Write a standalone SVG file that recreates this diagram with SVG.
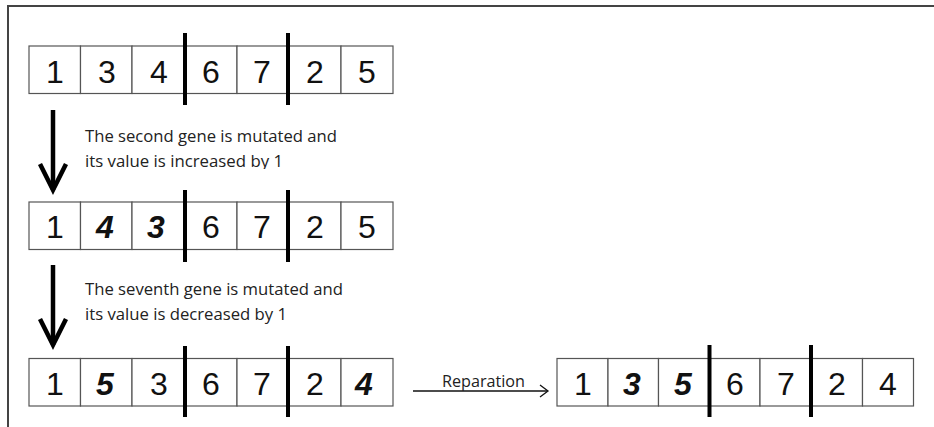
<svg xmlns="http://www.w3.org/2000/svg" width="934" height="427" viewBox="0 0 934 427">
<style>
.cell{fill:#fff;stroke:#555;stroke-width:1.2}
.cut{stroke:#000;stroke-width:4}
.num{font-family:"Liberation Sans",Arial,sans-serif;font-size:32px;fill:#111;text-anchor:middle}
.bi{font-weight:bold;font-style:italic}
.lbl{font-family:"Open Sans","Liberation Sans",Arial,sans-serif;font-size:16px;fill:#222}
.frame{stroke:#444;stroke-width:2;fill:none}
.big{stroke:#000;stroke-width:4.5;fill:none}
</style>
<defs>
<clipPath id="clip1"><rect x="80" y="120" width="300" height="49"/></clipPath>
</defs>
<path class="frame" d="M8,427 V6 H934"/>
<g id="row1">
<rect class="cell" x="29" y="46" width="51.5" height="47.5"/>
<rect class="cell" x="80.5" y="46" width="51.5" height="47.5"/>
<rect class="cell" x="132" y="46" width="53" height="47.5"/>
<rect class="cell" x="185" y="46" width="52" height="47.5"/>
<rect class="cell" x="237" y="46" width="51" height="47.5"/>
<rect class="cell" x="288" y="46" width="53" height="47.5"/>
<rect class="cell" x="341" y="46" width="52" height="47.5"/>
<line class="cut" x1="185" y1="33" x2="185" y2="105"/>
<line class="cut" x1="288" y1="33" x2="288" y2="105"/>
<text class="num" x="55" y="83">1</text>
<text class="num" x="107" y="83">3</text>
<text class="num" x="159" y="83">4</text>
<text class="num" x="211" y="83">6</text>
<text class="num" x="262" y="83">7</text>
<text class="num" x="315" y="83">2</text>
<text class="num" x="367" y="83">5</text>
</g>
<g id="row2">
<rect class="cell" x="29" y="202" width="51.5" height="47.5"/>
<rect class="cell" x="80.5" y="202" width="51.5" height="47.5"/>
<rect class="cell" x="132" y="202" width="53" height="47.5"/>
<rect class="cell" x="185" y="202" width="52" height="47.5"/>
<rect class="cell" x="237" y="202" width="51" height="47.5"/>
<rect class="cell" x="288" y="202" width="53" height="47.5"/>
<rect class="cell" x="341" y="202" width="52" height="47.5"/>
<line class="cut" x1="185" y1="190" x2="185" y2="262"/>
<line class="cut" x1="288" y1="190" x2="288" y2="262"/>
<text class="num" x="55" y="238">1</text>
<text class="num bi" x="105" y="238">4</text>
<text class="num bi" x="156" y="238">3</text>
<text class="num" x="211" y="238">6</text>
<text class="num" x="262" y="238">7</text>
<text class="num" x="315" y="238">2</text>
<text class="num" x="367" y="238">5</text>
</g>
<g id="row3">
<rect class="cell" x="29" y="358.5" width="51.5" height="47.5"/>
<rect class="cell" x="80.5" y="358.5" width="51.5" height="47.5"/>
<rect class="cell" x="132" y="358.5" width="53" height="47.5"/>
<rect class="cell" x="185" y="358.5" width="52" height="47.5"/>
<rect class="cell" x="237" y="358.5" width="51" height="47.5"/>
<rect class="cell" x="288" y="358.5" width="53" height="47.5"/>
<rect class="cell" x="341" y="358.5" width="52" height="47.5"/>
<line class="cut" x1="185" y1="346" x2="185" y2="417"/>
<line class="cut" x1="288" y1="346" x2="288" y2="417"/>
<text class="num" x="55" y="395">1</text>
<text class="num bi" x="105" y="395">5</text>
<text class="num" x="159" y="395">3</text>
<text class="num" x="211" y="395">6</text>
<text class="num" x="262" y="395">7</text>
<text class="num" x="315" y="395">2</text>
<text class="num bi" x="364" y="395">4</text>
</g>
<g id="row4">
<rect class="cell" x="557" y="358.5" width="51" height="47.5"/>
<rect class="cell" x="608" y="358.5" width="50.5" height="47.5"/>
<rect class="cell" x="658.5" y="358.5" width="51" height="47.5"/>
<rect class="cell" x="709.5" y="358.5" width="50.5" height="47.5"/>
<rect class="cell" x="760" y="358.5" width="51" height="47.5"/>
<rect class="cell" x="811" y="358.5" width="51.5" height="47.5"/>
<rect class="cell" x="862.5" y="358.5" width="51" height="47.5"/>
<line class="cut" x1="709.5" y1="345" x2="709.5" y2="417"/>
<line class="cut" x1="811" y1="345" x2="811" y2="417"/>
<text class="num" x="583" y="395">1</text>
<text class="num bi" x="632" y="395">3</text>
<text class="num bi" x="683" y="395">5</text>
<text class="num" x="735" y="395">6</text>
<text class="num" x="786" y="395">7</text>
<text class="num" x="837" y="395">2</text>
<text class="num" x="888" y="395">4</text>
</g>
<g id="connectors">
<line class="big" x1="53" y1="110" x2="53" y2="190"/>
<polyline class="big" points="40,164 53,190 66,164"/>
<line class="big" x1="53" y1="265" x2="53" y2="345"/>
<polyline class="big" points="40,319 53,345 66,319"/>
<line stroke="#111" stroke-width="1.3" x1="413" y1="391" x2="547" y2="391"/>
<polyline stroke="#111" stroke-width="1.3" fill="none" points="540,385 548,391 540,397"/>
</g>
<g id="labels">
<text class="lbl" x="85" y="142" textLength="252" lengthAdjust="spacingAndGlyphs">The second gene is mutated and</text>
<text class="lbl" x="85" y="167" textLength="198" lengthAdjust="spacingAndGlyphs" clip-path="url(#clip1)">its value is increased by 1</text>
<text class="lbl" x="85" y="295" textLength="258" lengthAdjust="spacingAndGlyphs">The seventh gene is mutated and</text>
<text class="lbl" x="85" y="320" textLength="202" lengthAdjust="spacingAndGlyphs">its value is decreased by 1</text>
<text class="lbl" x="442" y="387" font-size="14" textLength="83" lengthAdjust="spacingAndGlyphs">Reparation</text>
</g>
</svg>
